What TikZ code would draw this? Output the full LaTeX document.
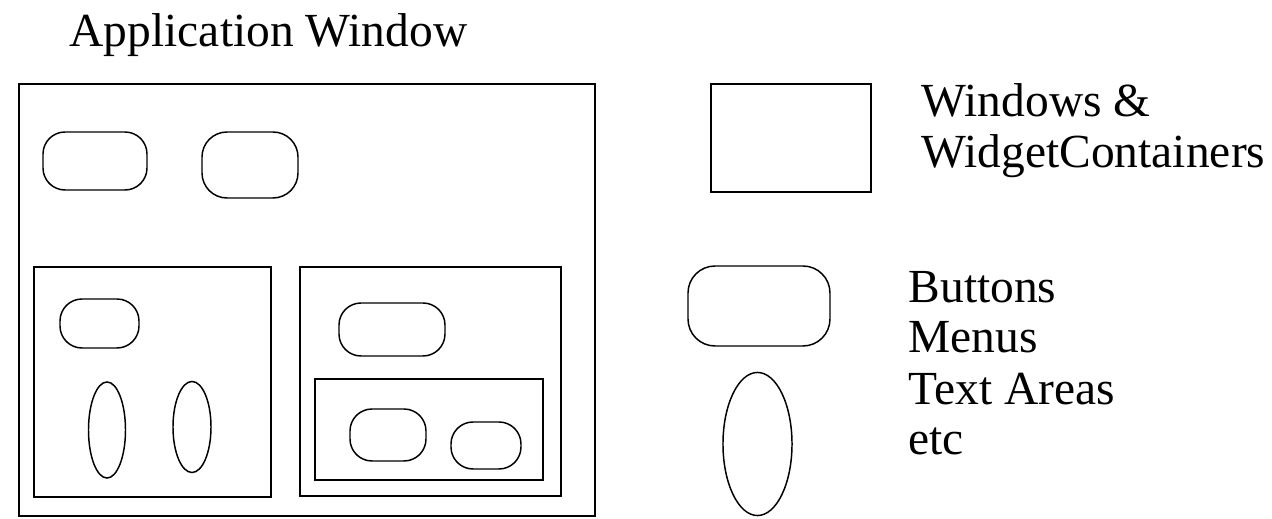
\documentclass[tikz,border=0pt]{standalone}
\usepackage{fontspec}
\setmainfont{Liberation Serif}
\usepackage{tikz}
\usetikzlibrary{positioning}

\tikzset{
    container/.style={draw=black, line width=0.6pt},
    widget/.style={draw=black, line width=0.42pt, rounded corners=0.22cm},
    field/.style={draw=black, line width=0.42pt},
    label/.style={anchor=base west, inner sep=0pt, font=\fontsize{13.5}{15}\selectfont}
}

\begin{document}
\begin{tikzpicture}[x=0.01cm, y=-0.01cm]
        \useasboundingbox (0,0) rectangle (1272,519);

        % Title
        \node[label] (title) at (69,47) {Application Window};

        % Application window
        \draw[container] (19,84) rectangle (595,516);
        \draw[widget] (43,132) rectangle (147,190);
        \draw[widget, rounded corners=0.25cm] (202,132) rectangle (298,198);

        % --- Left panel ---
        \draw[container] (34,267) rectangle (271,497);
        \draw[widget] (60,299) rectangle (139,348);
        \draw[field] (107,430) ellipse [x radius=0.185cm, y radius=0.48cm];
        \draw[field] (192,427) ellipse [x radius=0.19cm, y radius=0.455cm];

        % --- Right panel ---
        \draw[container] (300,267) rectangle (561,496);
        \draw[widget] (339,303) rectangle (445,356);
        \draw[container] (315,379) rectangle (543,480);
        \draw[widget] (350,409) rectangle (426,461);
        \draw[widget] (451,422) rectangle (521,469);

        % Legend
        \draw[container] (711,84) rectangle (871,192);
        \node[label] (lblwin) at (921,117) {Windows \&};
        \node[label] (lblcont) at (921,168) {WidgetContainers};

        \draw[widget, rounded corners=0.27cm] (688,266) rectangle (830,346);
        \draw[field] (757.5,444) ellipse [x radius=0.345cm, y radius=0.715cm];
        \foreach \y/\txt in {303/Buttons, 353/Menus, 405/Text Areas, 455/etc} {
            \node[label] (lbl\y) at (908,\y) {\txt};
        }
    \end{tikzpicture}
\end{document}
